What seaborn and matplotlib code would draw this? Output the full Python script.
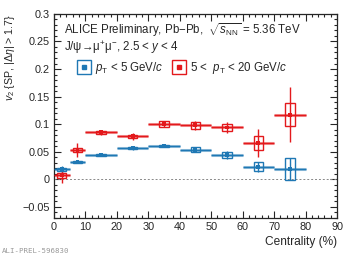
import numpy as np
import pandas as pd
import matplotlib
matplotlib.use("Agg")
import matplotlib.pyplot as plt
import seaborn as sns
from matplotlib.lines import Line2D
from matplotlib.patches import Rectangle
from matplotlib.legend_handler import HandlerTuple
from matplotlib.ticker import MultipleLocator, FuncFormatter

# centrality bins (%)
cent_lo = [0, 5, 10, 20, 30, 40, 50, 60, 70]
cent_hi = [5, 10, 20, 30, 40, 50, 60, 70, 80]

# pT < 5 GeV/c
v2_low = [0.018, 0.032, 0.044, 0.057, 0.061, 0.054, 0.044, 0.023, 0.019]
stat_low = [0.006, 0.003, 0.002, 0.003, 0.003, 0.005, 0.007, 0.009, 0.020]
syst_low = [0.002, 0.002, 0.002, 0.002, 0.002, 0.005, 0.006, 0.008, 0.020]

# 5 < pT < 20 GeV/c
v2_high = [0.007, 0.053, 0.085, 0.078, 0.100, 0.098, 0.094, 0.066, 0.117]
stat_high = [0.013, 0.012, 0.005, 0.006, 0.006, 0.008, 0.010, 0.025, 0.050]
syst_high = [0.004, 0.003, 0.003, 0.003, 0.005, 0.006, 0.006, 0.013, 0.021]

labels = [r"$p_{\rm T}$ < 5 GeV/$c$", r"5 <  $p_{\rm T}$ < 20 GeV/$c$"]
colors = ["#1f78b4", "#e3191c"]

sns.set_style("ticks")
plt.rcParams["font.family"] = ["Liberation Sans", "DejaVu Sans"]
plt.rcParams["mathtext.fontset"] = "custom"
plt.rcParams["mathtext.rm"] = "Liberation Sans"
plt.rcParams["mathtext.it"] = "Liberation Sans:italic"
plt.rcParams["mathtext.sf"] = "Liberation Sans"

fs = 8.3

fig = plt.figure(figsize=(3.57, 2.57), dpi=100)
ax = fig.add_axes([0.151, 0.152, 0.793, 0.794])

rows = []
for name, v2, st, sy in [(labels[0], v2_low, stat_low, syst_low),
                         (labels[1], v2_high, stat_high, syst_high)]:
    for lo, hi, v, e, s in zip(cent_lo, cent_hi, v2, st, sy):
        rows.append(dict(sample=name, lo=lo, hi=hi, cent=(lo + hi) / 2, v2=v, stat=e, syst=s))
df = pd.DataFrame(rows)

for name, c in zip(labels, colors):
    d = df[df["sample"] == name]
    # light bin-width band
    ax.hlines(d["v2"], d["lo"], d["hi"], color=c, lw=2.2, alpha=0.45, zorder=2)
    ax.errorbar(d["cent"], d["v2"], yerr=d["stat"], xerr=(d["hi"] - d["lo"]) / 2,
                fmt="none", ecolor=c, elinewidth=1.0, capsize=0, zorder=3)
    for x, v, s in zip(d["cent"], d["v2"], d["syst"]):
        h = max(2 * s, 0.004)
        ax.add_patch(Rectangle((x - 1.5, v - h / 2), 3, h, fill=False,
                               edgecolor=c, lw=1.0, zorder=4))

sns.scatterplot(data=df, x="cent", y="v2", hue="sample", palette=colors,
                marker="s", s=8, linewidth=0, ax=ax, legend=False, zorder=5)

ax.axhline(0, color="#888888", ls=(0, (2, 2)), lw=0.7, zorder=1)

ax.set_xlim(0, 90)
ax.set_ylim(-0.07, 0.3)
ax.xaxis.set_major_locator(MultipleLocator(10))
ax.xaxis.set_minor_locator(MultipleLocator(2))
ax.yaxis.set_major_locator(MultipleLocator(0.05))
ax.yaxis.set_minor_locator(MultipleLocator(0.01))
ax.yaxis.set_major_formatter(FuncFormatter(lambda v, p: ("%g" % round(v, 3)).replace("-", "\u2212")))
ax.tick_params(which="both", direction="in", top=True, right=True, labelsize=7.8, width=0.8, pad=3)
ax.tick_params(which="major", length=5)
ax.tick_params(which="minor", length=2.5)
for sp in ax.spines.values():
    sp.set_linewidth(0.9)

ax.set_xlabel("Centrality (%)", fontsize=8.6, loc="right", labelpad=3)
ax.set_ylabel(r"$v_{2}$ {SP, |$\Delta\eta$| > 1.7}", fontsize=7.7, loc="top", labelpad=4)

ax.text(0.035, 0.92, r"ALICE Preliminary, Pb$-$Pb,  $\sqrt{s_{\rm NN}}$ = 5.36 TeV",
        transform=ax.transAxes, fontsize=fs, va="center")
ax.text(0.035, 0.833, "J/\u03c8\u2192\u03bc$^{+}$\u03bc$^{-}$, 2.5 < $y$ < 4",
        transform=ax.transAxes, fontsize=fs, va="center")

handles = []
for c in colors:
    box = Line2D([], [], marker="s", ms=9.5, mfc="none", mec=c, mew=1.0, ls="none")
    dot = Line2D([], [], marker="s", ms=2.5, mfc=c, mec=c, ls="none")
    handles.append((box, dot))
ax.legend(handles, labels, handler_map={tuple: HandlerTuple(ndivide=1, pad=0)},
          ncol=2, frameon=False, fontsize=fs, loc="center left",
          bbox_to_anchor=(0.083, 0.735), handlelength=1.2, handletextpad=0.3,
          columnspacing=0.8, borderaxespad=0, borderpad=0)

fig.text(0.005, 0.015, "ALI-PREL-596830", fontsize=5.3, color="#999999",
         family="DejaVu Sans Mono")

fig.savefig("out.png", dpi=100)
